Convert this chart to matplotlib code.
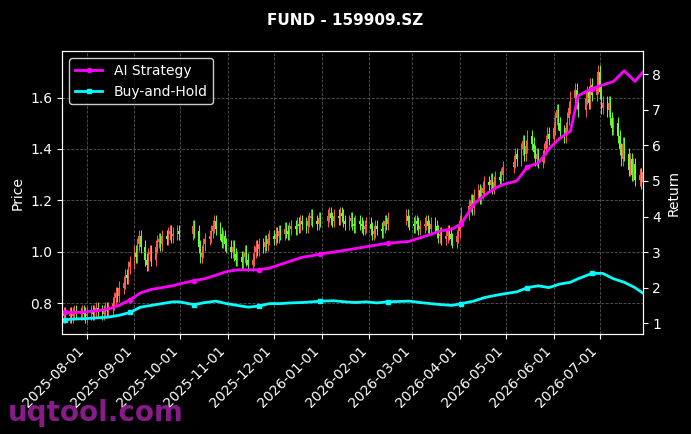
import matplotlib
matplotlib.use("Agg")
import matplotlib.pyplot as plt
import matplotlib.dates as mdates
import numpy as np
import datetime as dt

start = dt.date(2025, 7, 16)
first_monday = dt.date(2025, 7, 14)
holidays = ["2025-10-01","2025-10-02","2025-10-03","2025-10-06","2025-10-07","2025-10-08",
            "2026-01-01","2026-01-02","2026-02-16","2026-02-17","2026-02-18","2026-02-19",
            "2026-02-20","2026-02-23","2026-02-24","2026-04-06","2026-05-01","2026-05-04",
            "2026-05-05","2026-06-19"]

weekly_closes = [
 [.75,.76,.75],[.76,.75,.76,.77,.76],[.76,.77,.76,.75,.76],[.77,.76,.77,.78,.77],
 [.76,.77,.78,.77,.78],[.80,.82,.84,.83,.86],[.88,.91,.90,.94,.96],[1.00,.98,1.03,1.06,1.02],
 [.97,.95,.99,1.00,.97],[1.02,1.04,1.05,1.03,1.06],[1.05,1.07,1.08,1.06,1.07],[1.08,1.07],
 [1.10,1.08],[1.02,.98,1.00,1.03,1.05],[1.06,1.08,1.10,1.12,1.09],[1.07,1.04,1.06,1.03,1.02],
 [1.00,1.02,.99,.97,.98],[.96,.98,1.00,.97,.95],[.97,1.00,1.02,1.01,1.03],[1.02,1.04,1.03,1.05,1.06],
 [1.05,1.07,1.06,1.08,1.07],[1.09,1.08,1.07,1.09,1.10],[1.09,1.11,1.10,1.12,1.11],[1.10,1.12,1.13,1.14,1.12],
 [1.11,1.13,1.12],[1.14,1.15,1.13,1.12,1.14],[1.13,1.15,1.14,1.12,1.11],[1.12,1.13,1.11,1.10,1.12],
 [1.11,1.10,1.09,1.10,1.11],[1.09,1.07,1.08,1.10,1.09],[1.08,1.10,1.12,1.11,1.13],[1.14,1.12,1.11],
 [1.10,1.12,1.11,1.09,1.10],[1.11,1.12,1.10,1.09,1.11],[1.10,1.08,1.06,1.07,1.05],[1.06,1.08,1.07,1.05,1.04],
 [1.06,1.08,1.12,1.15],[1.18,1.20,1.17,1.22],[1.24,1.21,1.23,1.25,1.27],[1.26,1.28,1.25,1.27,1.29],
 [1.28,1.30,1.33],[1.35,1.38,1.36],[1.40,1.43,1.38,1.41,1.45],[1.42,1.39,1.36,1.38,1.35],
 [1.37,1.40,1.43,1.46,1.44],[1.48,1.52,1.55,1.50,1.47],[1.45,1.48,1.52,1.56,1.60],[1.63,1.58,1.55],
 [1.60,1.62,1.58,1.65,1.61],[1.64,1.70,1.62,1.56,1.58],[1.55,1.58,1.52,1.48,1.50],[1.45,1.40,1.36,1.42,1.38],
 [1.32,1.36,1.30,1.34,1.28],[1.30,1.27,1.31]]

ai_return = [1.30,1.30,1.32,1.35,1.40,1.50,1.65,1.85,1.95,2.00,2.05,2.10,2.20,2.25,2.35,2.45,2.50,2.50,
             2.50,2.55,2.65,2.75,2.85,2.90,2.95,3.00,3.05,3.10,3.15,3.20,3.25,3.30,3.40,3.50,3.60,3.65,
             3.80,4.35,4.60,4.80,4.90,5.00,5.40,5.50,5.90,6.20,6.40,7.40,7.60,7.70,7.80,8.10,7.80,8.05]
bh_return = [1.10,1.12,1.13,1.15,1.17,1.22,1.30,1.45,1.50,1.55,1.60,1.60,1.52,1.58,1.62,1.55,1.50,1.45,
             1.48,1.55,1.55,1.57,1.58,1.60,1.62,1.63,1.60,1.58,1.60,1.57,1.60,1.62,1.58,1.55,1.52,1.50,
             1.55,1.62,1.72,1.78,1.82,1.88,2.00,2.05,2.00,2.10,2.15,2.25,2.40,2.40,2.25,2.15,2.00,1.85]

hol = set(dt.date.fromisoformat(h) for h in holidays)
dates, closes, week_end = [], [], []
monday = first_monday
wi = 0
while wi < len(weekly_closes):
    days = [monday + dt.timedelta(k) for k in range(5)]
    days = [d for d in days if d >= start and d not in hol]
    if days:
        vals = weekly_closes[wi]
        for d, v in zip(days, vals):
            dates.append(d); closes.append(v)
        week_end.append(days[min(len(days), len(vals)) - 1])
        wi += 1
    monday += dt.timedelta(7)

closes = np.array(closes)
opens = np.concatenate([[closes[0] - 0.005], closes[:-1]])
wick = 0.025
highs = np.maximum(opens, closes) + wick
lows = np.minimum(opens, closes) - wick
x = mdates.date2num(dates)

fig = plt.figure(figsize=(6.91, 4.34), dpi=100, facecolor="black")
ax = fig.add_axes([0.09, 0.23, 0.84, 0.652])
ax.set_facecolor("black")
up_c, dn_c = "#ff5a4a", "#66ff33"
for xi, o, c, h, l in zip(x, opens, closes, highs, lows):
    col = up_c if c >= o else dn_c
    ax.vlines(xi, l, h, color=col, linewidth=0.7)
    ax.bar(xi, max(abs(c - o), 0.003), bottom=min(o, c), width=0.8, color=col, linewidth=0)
ax.set_ylim(0.68, 1.78)
ax.set_xlim(mdates.date2num(dt.date(2025, 7, 16)), mdates.date2num(dt.date(2026, 7, 29)))
ax.set_ylabel("Price", color="white")
ax.grid(True, color="#555555", linestyle="--", linewidth=0.6)
ax.xaxis.set_major_locator(mdates.MonthLocator())
ax.xaxis.set_major_formatter(mdates.DateFormatter("%Y-%m-%d"))
plt.setp(ax.get_xticklabels(), rotation=45, ha="right")

ax2 = ax.twinx()
wx = mdates.date2num(week_end)
ax2.plot(wx, ai_return, color="#ff00ff", linewidth=2, marker="o", markersize=3, markevery=6, label="AI Strategy")
ax2.plot(wx, bh_return, color="#00ffff", linewidth=2, marker="s", markersize=3, markevery=6, label="Buy-and-Hold")
ax2.set_ylim(0.69, 8.65)
ax2.set_ylabel("Return", color="white")

for a in (ax, ax2):
    a.tick_params(colors="white", labelsize=10)
    for s in a.spines.values():
        s.set_color("white")

leg = ax2.legend(loc="upper left", facecolor="black", edgecolor="white", fontsize=10)
for t in leg.get_texts():
    t.set_color("white")

fig.suptitle("FUND - 159909.SZ", color="white", fontweight="bold", fontsize=11, y=0.97)
fig.text(0.012, 0.03, "uqtool.com", color="#a020a0", fontsize=20, fontweight="bold", alpha=0.85)
fig.savefig("out.png", dpi=100, facecolor="black")
